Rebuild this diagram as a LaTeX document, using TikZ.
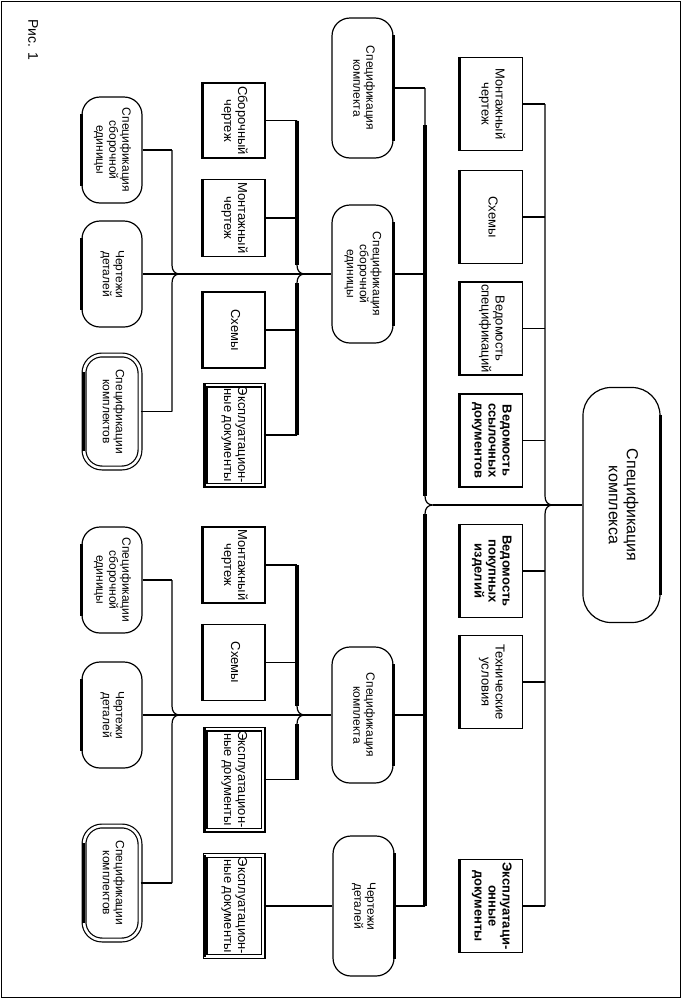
\documentclass[tikz,border=0pt]{standalone}
\usepackage{fontspec}
\setmainfont{Liberation Sans}
\usepackage{graphicx}
\usepackage{tikz}
\usetikzlibrary{calc}
\newcommand{\vt}[1]{\rotatebox{-90}{\begin{tabular}{@{}c@{}}#1\end{tabular}}}
% a bus line with the little hop where a crossing line meets it
\newcommand{\hopbus}[3]{\draw[wire] #1 -- ($#2+(0,-9)$) .. controls ($#2+(0,-3)$) and ($#2+(3,0)$) .. ($#2+(8,0)$)
  .. controls ($#2+(3,0)$) and ($#2+(0,3)$) .. ($#2+(0,9)$) -- #3;}
\newcommand{\lshade}[2]{\draw[shade] ([yshift=-#2pt]#1.north west) -- ([yshift=#2pt]#1.south west);}
\newcommand{\rshade}[2]{\draw[shade] ([yshift=-#2pt]#1.north east) -- ([yshift=#2pt]#1.south east);}
\tikzset{
  wire/.style={line width=1.2pt},
  bus/.style={line width=3.4pt},
  shade/.style={line width=3pt},
  box/.style={draw, line width=1.2pt, inner sep=0pt, minimum width=62pt, font=\fontsize{13}{14}\selectfont},
  doc/.style={box, minimum height=93pt},
  docb/.style={doc, font=\fontsize{13}{14}\selectfont\bfseries},
  sub/.style={box, minimum height=76pt},
  spec/.style={box, rounded corners=18pt, minimum width=61pt, font=\fontsize{12}{13}\selectfont},
  dbl/.style={double, double distance=2.6pt, minimum width=58pt},
}
\begin{document}
\begin{tikzpicture}[x=1pt, y=-1pt]
  \useasboundingbox (0,0) rectangle (683,999);
  \draw[line width=1.5pt] (1.5,1.5) rectangle (680.5,997.5);
  \node (ris) at (33,40) {\fontsize{14}{16}\selectfont\rotatebox{-90}{Рис. 1}};

  % where the buses run
  \coordinate (b0) at (545,0);
  \coordinate (b1) at (425,0);
  \coordinate (b2) at (297,0);
  \coordinate (b3) at (172,0);

  % the complex and its own documents
  \node[spec, rounded corners=28pt, minimum width=77pt, minimum height=235pt,
    font=\fontsize{16}{18}\selectfont] (root) at (621.5,505) {\vt{Спецификация\\комплекса}};
  \node[doc] (mont) at (491.5,104) {\vt{Монтажный\\чертеж}};
  \node[doc] (sch) at (491.5,217) {\vt{Схемы}};
  \node[doc] (vspec) at (491.5,328.5) {\vt{Ведомость\\спецификаций}};
  \node[docb] (vssd) at (491.5,440.5) {\vt{Ведомость\\ссылочных\\документов}};
  \node[docb] (vpok) at (491.5,571) {\vt{Ведомость\\покупных\\изделий}};
  \node[doc] (tu) at (491.5,682) {\vt{Технические\\условия}};
  \node[docb] (expl) at (491.5,906) {\vt{Эксплуатаци-\\онные\\документы}};

  % first level
  \node[spec, minimum height=140pt] (sk1) at (362.5,88) {\vt{Спецификация\\комплекта}};
  \node[spec, minimum height=138pt] (sse) at (362.5,274) {\vt{Спецификация\\сборочной\\единицы}};
  \node[spec, minimum height=136pt] (sk2) at (362.5,715) {\vt{Спецификация\\комплекта}};
  \node[spec, minimum height=140pt] (chd) at (363.5,906) {\vt{Чертежи\\деталей}};

  % documents of the assembly unit and of the set
  \node[sub, minimum height=75pt] (sb) at (234,120.5) {\vt{Сборочный\\чертеж}};
  \node[sub, minimum height=77pt] (mntA) at (234,218) {\vt{Монтажный\\чертеж}};
  \node[sub] (schA) at (234,330) {\vt{Схемы}};
  \node[sub, dbl, minimum height=100pt] (exA) at (234,435) {\vt{Эксплуатацион-\\ные документы}};
  \node[sub] (mntB) at (234,565) {\vt{Монтажный\\чертеж}};
  \node[sub] (schB) at (234,662.5) {\vt{Схемы}};
  \node[sub, dbl, minimum height=101pt] (exB) at (234,779.5) {\vt{Эксплуатацион-\\ные документы}};
  \node[sub, dbl, minimum height=101pt] (exC) at (234,906) {\vt{Эксплуатацион-\\ные документы}};

  % last level
  \node[spec, minimum width=60pt, minimum height=106pt] (sseA) at (112,150) {\vt{Спецификация\\сборочной\\единицы}};
  \node[spec, minimum width=60pt, minimum height=106pt] (chdA) at (112,274) {\vt{Чертежи\\деталей}};
  \node[spec, dbl, minimum width=56pt, minimum height=113pt] (skA) at (112,411.5) {\vt{Спецификации\\комплектов}};
  \node[spec, minimum width=60pt, minimum height=106pt] (sseB) at (112,580) {\vt{Спецификации\\сборочной\\единицы}};
  \node[spec, minimum width=60pt, minimum height=106pt] (chdB) at (112,715) {\vt{Чертежи\\деталей}};
  \node[spec, dbl, minimum width=56pt, minimum height=114pt] (skB) at (112,883) {\vt{Спецификации\\комплектов}};

  % heavy edges
  \rshade{root}{28}
  \foreach \n in {sk1,sse,sk2,chd} {\rshade{\n}{18}}
  \foreach \n in {sseA,chdA,skA,sseB,chdB,skB} {\lshade{\n}{18}}
  \foreach \n in {mont,sch,vspec,vssd,vpok,tu,expl,sb,mntA,schA,exA,mntB,schB,exB,exC} {\lshade{\n}{0}}

  % the complex
  \foreach \n in {mont,sch,vspec,vssd,vpok,tu,expl}
    \draw[wire] (\n.east) -- (\n.east -| b0);
  \hopbus{(mont.east -| b0)}{(root.west -| b0)}{(expl.east -| b0)}
  \draw[wire] (root.west) -- ($(root.west -| b1)+(8,0)$);
  \hopbus{(sk1.east -| b1)}{(root.west -| b1)}{(chd.east -| b1)}
  \draw[bus] ($(sk1.east -| b1)+(0,37)$) -- ($(root.west -| b1)+(0,-9)$);
  \draw[bus] ($(root.west -| b1)+(0,9)$) -- (chd.east -| b1);
  \foreach \n in {sk1,sse,sk2,chd}
    \draw[wire] (\n.east) -- (\n.east -| b1);

  % the assembly unit
  \foreach \n in {sb,mntA,schA,exA}
    \draw[wire] (\n.east) -- (\n.east -| b2);
  \hopbus{(sb.east -| b2)}{(sse.west -| b2)}{(exA.east -| b2)}
  \draw[bus] (sb.east -| b2) -- ($(sse.west -| b2)+(0,-9)$);
  \draw[bus] ($(sse.west -| b2)+(0,9)$) -- (exA.east -| b2);
  \draw[wire] (chdA) -- (sse);
  \foreach \n in {sseA,skA}
    \draw[wire] (\n.east) -- (\n.east -| b3);
  \hopbus{(sseA.east -| b3)}{(chdA.east -| b3)}{(skA.east -| b3)}

  % the set
  \foreach \n in {mntB,schB,exB}
    \draw[wire] (\n.east) -- (\n.east -| b2);
  \hopbus{(mntB.east -| b2)}{(sk2.west -| b2)}{(exB.east -| b2)}
  \draw[bus] (mntB.east -| b2) -- ($(sk2.west -| b2)+(0,-9)$);
  \draw[bus] ($(sk2.west -| b2)+(0,9)$) -- (exB.east -| b2);
  \draw[wire] (chdB) -- (sk2);
  \foreach \n in {sseB,skB}
    \draw[wire] (\n.east) -- (\n.east -| b3);
  \hopbus{(sseB.east -| b3)}{(chdB.east -| b3)}{(skB.east -| b3)}

  % detail drawings
  \draw[wire] (exC) -- (chd);
\end{tikzpicture}
\end{document}
